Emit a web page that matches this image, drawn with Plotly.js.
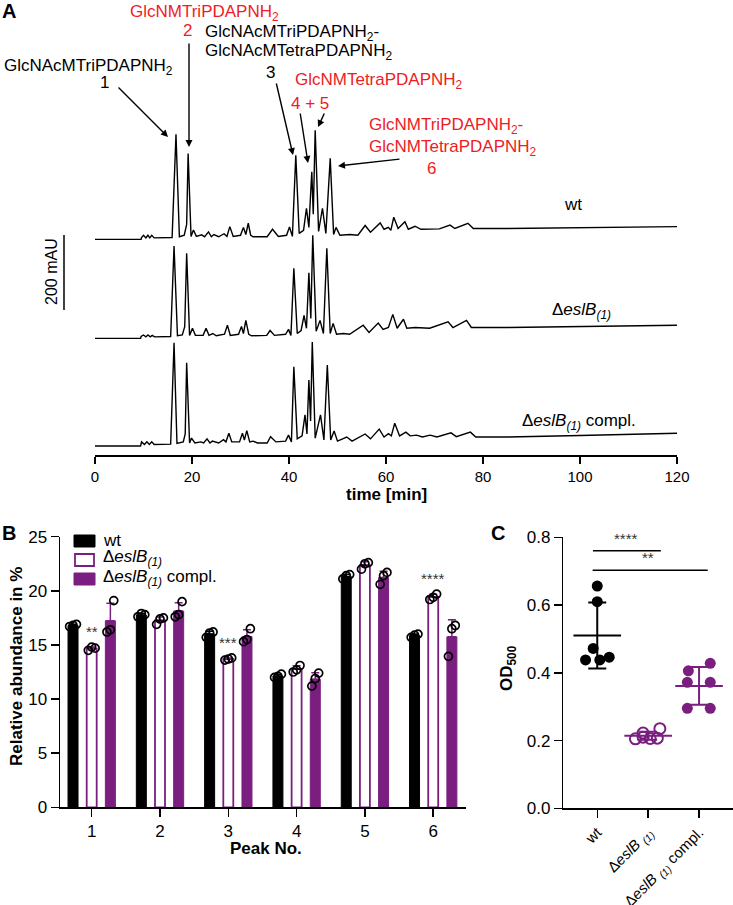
<!DOCTYPE html>
<html><head><meta charset="utf-8">
<script src="https://cdn.plot.ly/plotly-3.0.1.min.js"></script>
<style>html,body{margin:0;padding:0;background:#fff;}#chart{width:733px;height:905px;}</style>
</head><body><div id="chart"></div>
<script>
// ---------- Panel A: HPLC chromatograms (time in min, absorbance in mAU above each trace's baseline)
const wtTime = [0,9.5,9.6,10.0,10.5,10.9,11.3,11.7,12.2,15.9,16.7,17.4,18.4,18.9,19.2,19.8,20.3,20.9,22.0,22.6,23.4,24.0,24.5,25.5,26.6,27.2,27.8,28.5,30.0,30.6,31.1,31.6,32.1,32.6,35.5,36.6,37.8,39.5,40.1,40.7,41.4,42.1,43.0,43.6,44.1,44.7,45.0,45.4,46.1,46.9,47.6,48.5,49.2,49.7,50.5,52.6,54.2,55.7,56.8,58.8,59.6,60.5,61.0,61.6,62.5,63.9,64.6,66.0,67.2,69,71,73.2,74.2,76.9,78.0,85,100,120];
const wtSignal = [0,0,5,11,4,11,4,11,4,5,280,7,11,40,229,8,25,8,12,7,20,7,13,7,15,8,34,8,11,32,13,43,11,7,7,27,8,11,33,8,224,16,24,83,32,180,67,291,21,83,16,216,13,32,11,13,11,37,19,44,27,32,24,59,29,47,27,35,27,28,28,38,29,43,29,29,31,34];
const delTime = [0,9.4,9.5,10.0,10.5,10.9,11.4,11.8,12.3,15.6,16.3,17.0,18.0,18.5,18.9,19.5,20.1,20.7,22.3,22.9,23.5,24.3,25.0,26.7,27.3,27.9,29.6,30.2,30.6,31.1,31.7,32.3,35.4,36.1,37.0,39.3,39.9,40.4,41.0,41.7,42.5,43.1,43.6,44.1,44.5,44.9,45.6,46.4,47.1,47.8,48.5,49.1,49.8,51.2,52.5,55.3,56.5,58.4,59.4,60.5,61.4,62.3,63.6,64.3,66,69,72.8,73.8,76.6,77.6,85,100,120];
const delSignal = [0,0,5,9,4,9,4,8,4,5,246,7,9,31,227,8,27,8,8,27,8,13,7,11,35,8,11,32,13,48,11,7,8,21,8,11,24,8,187,13,21,61,27,175,53,275,19,48,13,240,13,40,11,13,11,35,16,41,24,29,64,27,51,27,29,27,44,29,48,29,29,32,35];
const complTime = [0,9.4,9.6,10.2,10.7,11.2,11.7,12.2,15.6,16.3,16.9,18.2,18.6,18.9,19.5,19.9,20.6,21.8,22.4,23.1,23.7,24.2,25.5,26.5,27.0,27.6,28.2,29.8,30.4,30.8,31.3,31.9,32.6,33.5,35.5,36.2,37.3,39.3,39.9,40.5,41.0,41.7,42.7,43.3,43.7,44.1,44.45,44.8,45.4,46.5,47.2,47.9,48.6,49.3,50.0,51.9,53,55.7,56.8,58.6,59.6,60.5,61.1,61.8,62.8,64.1,65.0,66.3,67.5,69.1,70.5,73.4,74.5,77.4,78.5,85,100,120];
const complSignal = [0,0,11,4,11,4,11,4,5,275,7,11,32,222,8,21,8,11,8,19,8,13,8,17,11,34,11,11,34,16,41,11,13,8,8,25,11,13,29,11,211,19,27,83,32,176,67,277,21,83,16,216,16,40,13,24,13,32,19,45,24,33,27,61,27,37,27,29,24,29,24,35,25,37,24,24,28,34];
const timeTicks = [0,20,40,60,80,100,120];

// ---------- Panel B: relative abundance (%) per peak, three replicates
const peakNo = [1,2,3,4,5,6];
const wtAbund = [[16.7,16.8,16.9],[17.6,17.9,17.8],[15.7,16.1,16.2],[12.0,12.1,12.3],[21.1,21.4,21.5],[15.7,15.9,16.0]];
const delAbund = [[14.5,14.8,14.7],[16.9,17.4,17.5],[13.6,13.7,13.8],[12.5,12.7,13.1],[22.0,22.5,22.6],[19.2,19.4,19.7]];
const complAbund = [[16.2,16.4,19.1],[17.6,17.8,19.0],[15.3,15.5,16.5],[11.2,11.9,12.4],[20.6,21.4,21.7],[13.95,16.5,16.8]];
const abundTicks = [0,5,10,15,20,25];
const peakStars = ['**','','***','','','****'];

// ---------- Panel C: OD500, six replicates
const odGroups = ['wt','Δ<i>eslB</i> <sub><i>(1)</i></sub>','Δ<i>eslB</i> <sub><i>(1)</i></sub> compl.'];
const odWt = [0.656,0.61,0.472,0.438,0.438,0.446];
const odDel = [0.205,0.21,0.206,0.207,0.235,0.222];
const odCompl = [0.428,0.406,0.372,0.372,0.295,0.295];

// ---------- helpers / styles
const W=733,H=905;
const px=x=>x/W, py=y=>1-y/H;
const FONT='Arial, "Liberation Sans", Helvetica, sans-serif';
const PURPLE='#7a1f80', RED='#ee1c24';
const mean=a=>a.reduce((s,v)=>s+v,0)/a.length;
const sd=a=>{const m=mean(a);return Math.sqrt(a.reduce((s,v)=>s+(v-m)*(v-m),0)/(a.length-1));};
const baseA={wt:575,del:311,compl:24};   // vertical offsets of the stacked chromatograms (mAU)
const mAUperPx=200/75;

const traces=[];
function chrom(t,s,off){traces.push({type:'scatter',mode:'lines',x:t,y:s.map(v=>v+off),xaxis:'x',yaxis:'y',line:{color:'#000',width:1.4},hoverinfo:'skip',showlegend:false});}
chrom(wtTime,wtSignal,baseA.wt);
chrom(delTime,delSignal,baseA.del);
chrom(complTime,complSignal,baseA.compl);

// Panel B bars
const zeros=peakNo.map(()=>0);
traces.push({type:'bar',x:peakNo,y:wtAbund.map(mean),xaxis:'x2',yaxis:'y2',marker:{color:'#000',line:{color:'#000',width:1}},
  error_y:{type:'data',symmetric:false,array:wtAbund.map(sd),arrayminus:zeros,color:'#000',thickness:1.5,width:4},showlegend:false,hoverinfo:'skip'});
traces.push({type:'bar',x:peakNo,y:delAbund.map(mean),xaxis:'x2',yaxis:'y2',marker:{color:'#fff',line:{color:PURPLE,width:1.8}},
  error_y:{type:'data',symmetric:false,array:delAbund.map(sd),arrayminus:zeros,color:PURPLE,thickness:1.5,width:4},showlegend:false,hoverinfo:'skip'});
traces.push({type:'bar',x:peakNo,y:complAbund.map(mean),xaxis:'x2',yaxis:'y2',marker:{color:PURPLE,line:{color:PURPLE,width:1}},
  error_y:{type:'data',symmetric:false,array:complAbund.map(sd),arrayminus:zeros,color:PURPLE,thickness:1.5,width:4},showlegend:false,hoverinfo:'skip'});
const groupOff=[-0.273,0,0.273], repJit=[-0.05,0,0.05];
[wtAbund,delAbund,complAbund].forEach((g,gi)=>{
  const xs=[],ys=[];
  g.forEach((reps,i)=>reps.forEach((v,j)=>{xs.push(peakNo[i]+groupOff[gi]+repJit[j]);ys.push(v);}));
  traces.push({type:'scatter',mode:'markers',x:xs,y:ys,xaxis:'x2',yaxis:'y2',marker:{symbol:'circle-open',size:8,color:'#000',line:{color:'#000',width:1.7}},showlegend:false,hoverinfo:'skip',cliponaxis:false});
});

// Panel C
const cJit=[[0,0,-0.08,-0.23,0.05,0.235],[-0.25,-0.1,0.04,0.18,0.23,-0.1],[0.22,-0.21,-0.23,0.22,-0.23,0.22]];
const cSets=[odWt,odDel,odCompl];
const cStyle=[{symbol:'circle',size:11,color:'#000',line:{color:'#000',width:0}},
  {symbol:'circle-open',size:11,color:PURPLE,line:{color:PURPLE,width:2}},
  {symbol:'circle',size:11,color:PURPLE,line:{color:PURPLE,width:0}}];
const cCol=['#000',PURPLE,PURPLE];
cSets.forEach((vals,gi)=>{
  traces.push({type:'scatter',mode:'markers',x:vals.map((v,j)=>gi+cJit[gi][j]),y:vals,xaxis:'x3',yaxis:'y3',marker:cStyle[gi],showlegend:false,hoverinfo:'skip',cliponaxis:false});
  traces.push({type:'scatter',mode:'markers',x:[gi],y:[mean(vals)],xaxis:'x3',yaxis:'y3',
    marker:{symbol:'line-ew-open',size:34,color:cCol[gi],line:{color:cCol[gi],width:2}},
    error_y:{type:'data',array:[sd(vals)],color:cCol[gi],thickness:2,width:9},showlegend:false,hoverinfo:'skip',cliponaxis:false});
});

// ---------- annotations
const ann=[];
function T(text,x,y,o){ann.push(Object.assign({text:text,x:px(x),y:py(y),xref:'paper',yref:'paper',showarrow:false,xanchor:'center',yanchor:'middle',font:{size:17,color:'#000',family:FONT}},o||{}));}
function A(x0,y0,x1,y1){ann.push({text:'',x:px(x1),y:py(y1),xref:'paper',yref:'paper',showarrow:true,ax:x0-x1,ay:y0-y1,arrowhead:2,arrowsize:1,arrowwidth:1.4,arrowcolor:'#000',standoff:0,startstandoff:0});}
const red={size:17,color:RED,family:FONT};
// panel letters
T('<b>A</b>',9,11,{font:{size:20,color:'#000',family:FONT}});
T('<b>B</b>',9,533,{font:{size:20,color:'#000',family:FONT}});
T('<b>C</b>',498,533,{font:{size:20,color:'#000',family:FONT}});
// peak labels
T('GlcNMTriPDAPNH<sub>2</sub>',204,13,{font:red});
T('2',187,30,{font:red});
T('GlcNAcMTriPDAPNH<sub>2</sub>-',203,33,{xanchor:'left'});
T('GlcNAcMTetraPDAPNH<sub>2</sub>',203,52,{xanchor:'left'});
T('3',270,73);
T('GlcNAcMTriPDAPNH<sub>2</sub>',2,67,{xanchor:'left'});
T('1',104,82);
T('GlcNMTetraPDAPNH<sub>2</sub>',293,81,{xanchor:'left',font:red});
T('4 + 5',310,103,{font:red});
T('GlcNMTriPDAPNH<sub>2</sub>-',367,126,{xanchor:'left',font:red});
T('GlcNMTetraPDAPNH<sub>2</sub>',367,148,{xanchor:'left',font:red});
T('6',432,168,{font:red});
A(117,86,168,137);
A(189,42,189,147);
A(276,82,293,155);
A(300,112,308,163);
A(325,112,318,127);
A(401,159,338,166);
// trace labels
T('wt',573,205);
T('Δ<i>eslB</i><sub><i>(1)</i></sub>',550,311,{xanchor:'left'});
T('Δ<i>eslB</i><sub><i>(1)</i></sub> compl.',520,422,{xanchor:'left'});
T('200 mAU',52,272,{textangle:-90,font:{size:16,color:'#000',family:FONT}});
// axis titles
T('<b>time [min]</b>',386,494);
T('<b>Relative abundance in %</b>',16,667,{textangle:-90});
T('<b>Peak No.</b>',266,848);
T('<b>OD<sub>500</sub></b>',508,668,{textangle:-90});
// legend B
T('wt',101,540,{xanchor:'left'});
T('Δ<i>eslB</i><sub><i>(1)</i></sub>',101,558,{xanchor:'left'});
T('Δ<i>eslB</i><sub><i>(1)</i></sub> compl.',101,578,{xanchor:'left'});
// stars B
peakStars.forEach((s,i)=>{ if(s){ const top=Math.max(...delAbund[i]); ann.push({text:s,x:peakNo[i],y:top+0.5,xref:'x2',yref:'y2',showarrow:false,yanchor:'bottom',font:{size:15,color:'#333',family:FONT}}); }});
// stars C
ann.push({text:'****',x:0.56,y:0.765,xref:'x3',yref:'y3',showarrow:false,yanchor:'bottom',font:{size:15,color:'#333',family:FONT}});
ann.push({text:'**',x:1.0,y:0.708,xref:'x3',yref:'y3',showarrow:false,yanchor:'bottom',font:{size:15,color:'#333',family:FONT}});

const shapes=[
  {type:'line',xref:'paper',yref:'paper',x0:px(64),x1:px(64),y0:py(235),y1:py(235+200/mAUperPx),line:{color:'#000',width:1.5}},
  {type:'rect',xref:'paper',yref:'paper',x0:px(74),x1:px(95),y0:py(535),y1:py(547),fillcolor:'#000',line:{color:'#000',width:1}},
  {type:'rect',xref:'paper',yref:'paper',x0:px(75),x1:px(94),y0:py(554),y1:py(566),fillcolor:'#fff',line:{color:PURPLE,width:1.8}},
  {type:'rect',xref:'paper',yref:'paper',x0:px(74),x1:px(95),y0:py(573),y1:py(585),fillcolor:PURPLE,line:{color:PURPLE,width:1}},
  {type:'line',xref:'x3',yref:'y3',x0:-0.085,x1:1.25,y0:0.76,y1:0.76,line:{color:'#000',width:1.5}},
  {type:'line',xref:'x3',yref:'y3',x0:-0.09,x1:2.17,y0:0.703,y1:0.703,line:{color:'#000',width:1.5}}
];

const axBase={showline:true,linecolor:'#000',linewidth:1.5,ticks:'outside',tickcolor:'#000',tickwidth:1.5,showgrid:false,zeroline:false,fixedrange:true,automargin:false};
const layout={
  width:W,height:H,margin:{l:0,r:0,t:0,b:0},paper_bgcolor:'#fff',plot_bgcolor:'rgba(0,0,0,0)',
  font:{family:FONT,size:16,color:'#000'},showlegend:false,
  barmode:'group',bargap:0.18,bargroupgap:0.465,
  xaxis:Object.assign({},axBase,{domain:[px(95),px(677)],range:[0,120],anchor:'y',ticklen:7,tickvals:timeTicks,tickfont:{size:15}}),
  yaxis:{domain:[py(455),py(110)],range:[0,(455-110)*mAUperPx],visible:false,fixedrange:true},
  xaxis2:Object.assign({},axBase,{domain:[px(60),px(466)],range:[0.536,6.48],anchor:'y2',ticklen:8,tickvals:peakNo,tickfont:{size:17}}),
  yaxis2:Object.assign({},axBase,{domain:[py(807.3),py(536.7)],range:[0,25],anchor:'x2',ticklen:8,tickvals:abundTicks,tickfont:{size:17}}),
  xaxis3:Object.assign({},axBase,{domain:[px(563.3),1],range:[-0.667,2.667],anchor:'y3',ticklen:8,tickvals:[0,1,2],ticktext:odGroups,tickangle:-45,tickfont:{size:15}}),
  yaxis3:Object.assign({},axBase,{domain:[py(808.3),py(537.3)],range:[0,0.8],anchor:'x3',ticklen:8,tickvals:[0,0.2,0.4,0.6,0.8],tickformat:'.1f',tickfont:{size:17}}),
  annotations:ann,shapes:shapes
};
Plotly.newPlot('chart',traces,layout,{staticPlot:true,displayModeBar:false});
</script></body></html>
